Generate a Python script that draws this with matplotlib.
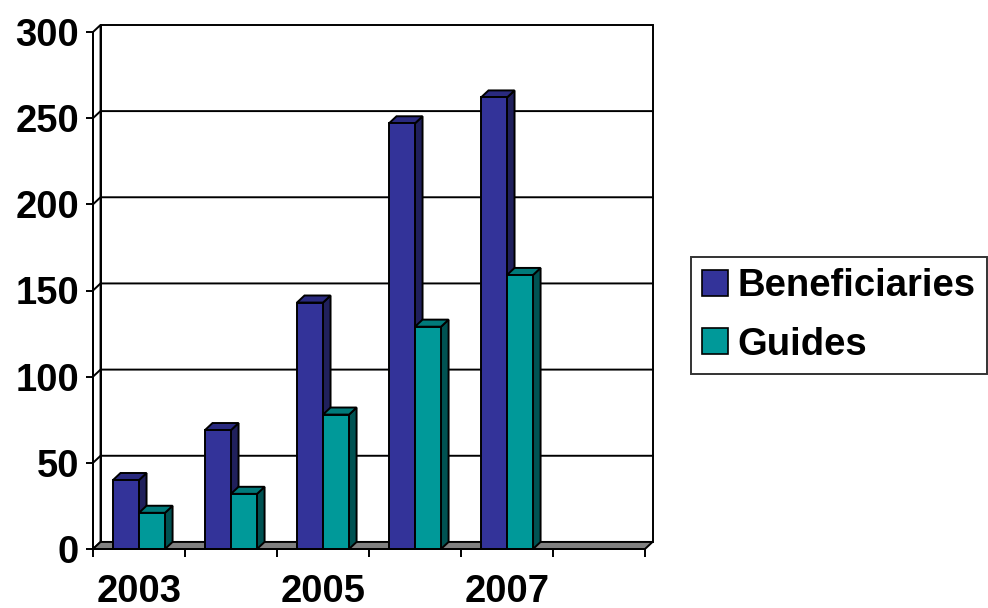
import numpy as np
import matplotlib
matplotlib.use('Agg')
import matplotlib.pyplot as plt
from matplotlib.patches import Polygon, Patch

plt.rcParams['font.family'] = ['Liberation Sans', 'DejaVu Sans']
plt.rcParams['font.weight'] = 'bold'

# data
years = ['2003', '2004', '2005', '2006', '2007', '2008']
beneficiaries = [40, 69, 143, 247, 262]
guides = [21, 32, 78, 129, 159]
yticks = [0, 50, 100, 150, 200, 250, 300]

# colours: front, side, top
c_ben = ('#333399', '#20205c', '#2a2a7f')
c_gui = ('#009999', '#005252', '#007a7a')

lw = 1.4
dx = 0.082   # depth offset in category units
dy = 4.1     # depth offset in value units
w = 0.283    # bar width
fs = 27.5

fig = plt.figure(figsize=(9.88, 6.08), dpi=100)
ax = fig.add_axes([93/988, 59/608, 552/988, 517/608])
n = len(years)
xl, xr = -0.5, n - 0.5
ymax = yticks[-1]
ax.set_xlim(xl, xr)
ax.set_ylim(0, ymax)

# back wall + left wall
ax.add_patch(Polygon([(xl+dx, dy), (xr+dx, dy), (xr+dx, ymax+dy), (xl+dx, ymax+dy)],
                     closed=True, facecolor='white', edgecolor='black', lw=lw,
                     clip_on=False, zorder=1))
ax.add_patch(Polygon([(xl, 0), (xl+dx, dy), (xl+dx, ymax+dy), (xl, ymax)],
                     closed=True, facecolor='white', edgecolor='black', lw=lw,
                     clip_on=False, zorder=1))
for v in yticks[1:-1]:
    ax.plot([xl, xl+dx, xr+dx], [v, v+dy, v+dy], color='black', lw=lw,
            clip_on=False, zorder=2)

# floor
ax.add_patch(Polygon([(xl, 0), (xr, 0), (xr+dx, dy), (xl+dx, dy)],
                     closed=True, facecolor='#808080', edgecolor='black', lw=lw,
                     clip_on=False, zorder=3))


def bar3d(x0, h, cols, z):
    ax.bar(x0, h, width=w, align='edge', color=cols[0], edgecolor='black',
           lw=lw, zorder=z + 0.2)
    ax.add_patch(Polygon([(x0+w, 0), (x0+w+dx, dy), (x0+w+dx, h+dy), (x0+w, h)],
                         closed=True, facecolor=cols[1], edgecolor='black',
                         lw=lw, clip_on=False, zorder=z))
    ax.add_patch(Polygon([(x0, h), (x0+dx, h+dy), (x0+w+dx, h+dy), (x0+w, h)],
                         closed=True, facecolor=cols[2], edgecolor='black',
                         lw=lw, clip_on=False, zorder=z + 0.1))


for i in range(len(beneficiaries)):
    bar3d(i - w, beneficiaries[i], c_ben, 4 + 2*i)
    bar3d(i, guides[i], c_gui, 5 + 2*i)

# axes styling
for s in ['top', 'right']:
    ax.spines[s].set_visible(False)
for s in ['left', 'bottom']:
    ax.spines[s].set_linewidth(lw)
    ax.spines[s].set_zorder(20)

ax.set_yticks(yticks)
ax.tick_params(axis='y', direction='out', length=5, width=lw, pad=5,
               labelsize=fs)
ax.set_xticks(np.arange(0, n, 2))
ax.set_xticklabels(years[::2])
ax.set_xticks(np.arange(n + 1) - 0.5, minor=True)
ax.tick_params(axis='x', which='major', length=0, pad=18, labelsize=fs)
ax.tick_params(axis='x', which='minor', direction='out', length=6, width=lw)
for t in ax.get_xticklabels() + ax.get_yticklabels():
    t.set_fontweight('bold')

handles = [Patch(facecolor=c_ben[0], edgecolor='black', lw=1.2),
           Patch(facecolor=c_gui[0], edgecolor='black', lw=1.2)]
leg = fig.legend(handles, ['Beneficiaries', 'Guides'], loc='upper left',
                 bbox_to_anchor=(691/988, 1 - 257/608), borderaxespad=0,
                 fancybox=False, shadow=False, fontsize=fs,
                 handlelength=0.66, handleheight=0.66, handletextpad=0.25,
                 borderpad=0.3, labelspacing=0.58, frameon=True)
leg.get_frame().set_edgecolor('black')
leg.get_frame().set_linewidth(lw)
for t in leg.get_texts():
    t.set_fontweight('bold')

fig.savefig('out.png', dpi=100)
